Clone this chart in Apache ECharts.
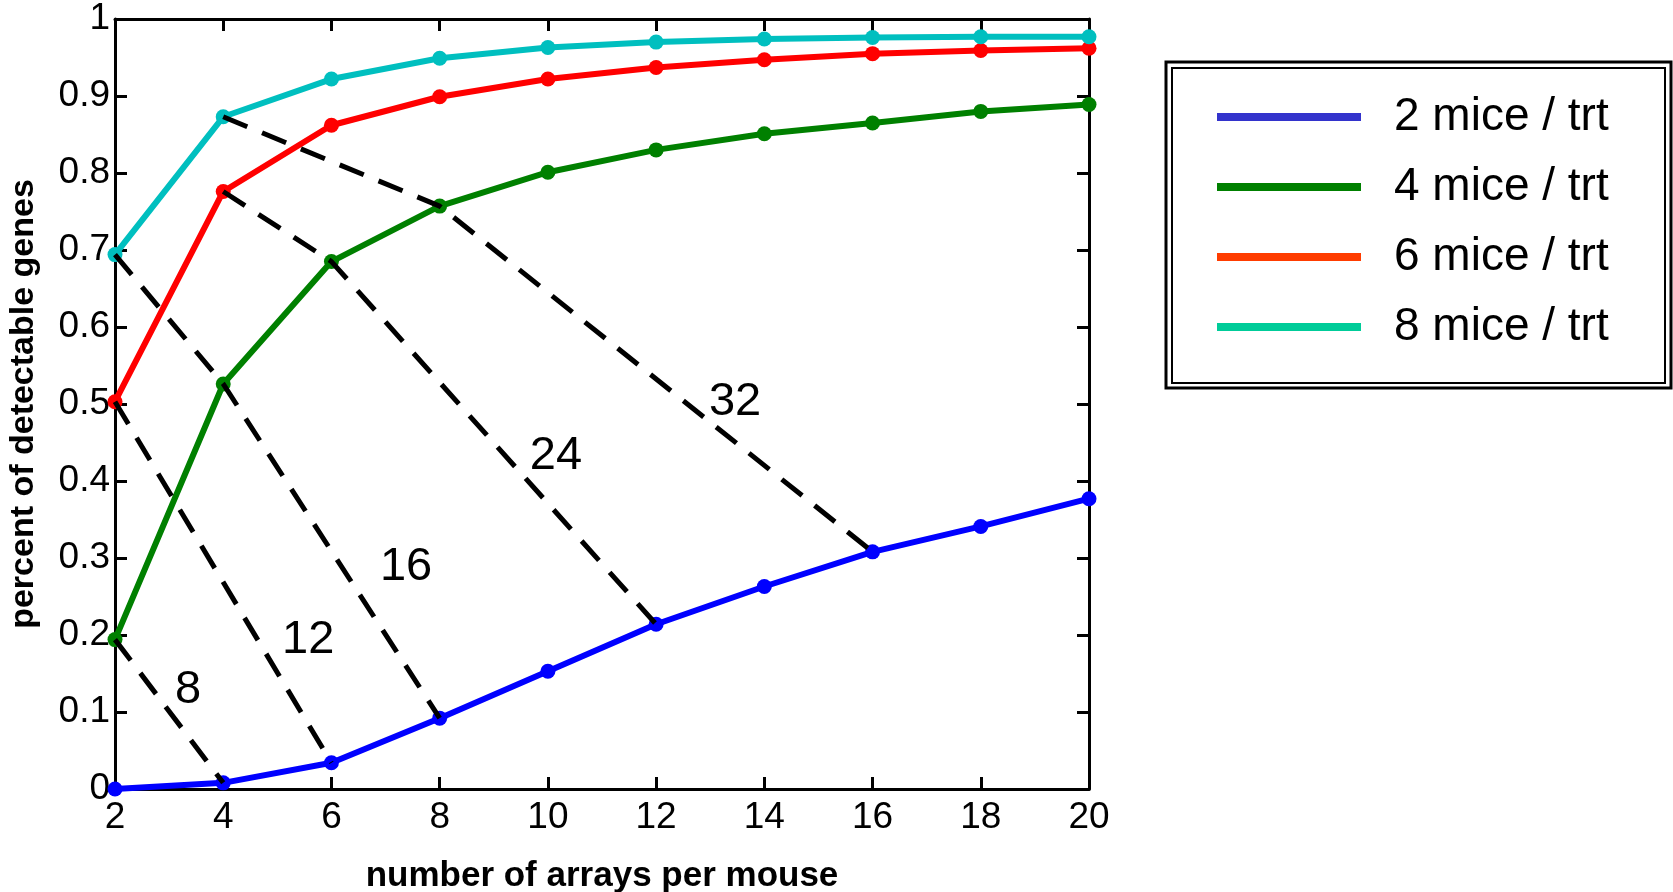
<!DOCTYPE html>
<html>
<head>
<meta charset="utf-8">
<script src="https://cdn.jsdelivr.net/npm/echarts@6/dist/echarts.min.js"></script>
<style>
html,body{margin:0;padding:0;background:#fff;}
#chart{width:1673px;height:892px;}
</style>
</head>
<body>
<div id="chart"></div>
<script>
// ---- data ----
const arraysPerMouse = [2, 4, 6, 8, 10, 12, 14, 16, 18, 20];
const mice2 = [0.000, 0.008, 0.034, 0.092, 0.153, 0.214, 0.263, 0.308, 0.341, 0.377];
const mice4 = [0.194, 0.526, 0.685, 0.757, 0.801, 0.830, 0.851, 0.865, 0.880, 0.889];
const mice6 = [0.503, 0.776, 0.862, 0.899, 0.922, 0.937, 0.947, 0.955, 0.959, 0.962];
const mice8 = [0.694, 0.873, 0.922, 0.949, 0.963, 0.970, 0.974, 0.976, 0.977, 0.977];
const seriesNames = ['2 mice / trt', '4 mice / trt', '6 mice / trt', '8 mice / trt'];
const yTicks = [0, 0.1, 0.2, 0.3, 0.4, 0.5, 0.6, 0.7, 0.8, 0.9, 1];

// iso-total-array contours (mice x arrays = constant), built from the series points
const contour8  = [[arraysPerMouse[0], mice4[0]], [arraysPerMouse[1], mice2[1]]];
const contour12 = [[arraysPerMouse[0], mice6[0]], [arraysPerMouse[2], mice2[2]]];
const contour16 = [[arraysPerMouse[0], mice8[0]], [arraysPerMouse[1], mice4[1]], [arraysPerMouse[3], mice2[3]]];
const contour24 = [[arraysPerMouse[1], mice6[1]], [arraysPerMouse[2], mice4[2]], [arraysPerMouse[5], mice2[5]]];
const contour32 = [[arraysPerMouse[1], mice8[1]], [arraysPerMouse[3], mice4[3]], [arraysPerMouse[7], mice2[7]]];
const contourLabels = ['8', '12', '16', '24', '32'];
const contourLabelX = [3.35, 5.57, 7.38, 10.15, 13.46];
const contourLabelY = [0.128, 0.194, 0.288, 0.432, 0.502];

// ---- styles ----
const lineColors = ['#0000ff', '#008000', '#ff0000', '#00bfbf'];
const legendColors = ['#3333cc', '#008000', '#ff3c00', '#00cc99'];
const FONT = '"Liberation Sans", Arial, Helvetica, sans-serif';

const chart = echarts.init(document.getElementById('chart'));
const allSeries = [mice2, mice4, mice6, mice8];

const lineSeries = allSeries.map((arr, i) => ({
  name: seriesNames[i],
  type: 'line',
  data: arr.map((v, j) => [arraysPerMouse[j], v]),
  symbol: 'circle',
  symbolSize: 15,
  showSymbol: true,
  clip: false,
  lineStyle: { color: lineColors[i], width: 6 },
  itemStyle: { color: lineColors[i] },
  emphasis: { disabled: true },
  z: 2 + i,
  animation: false
}));

const contourSeries = [contour8, contour12, contour16, contour24, contour32].map(c => ({
  type: 'line',
  data: c,
  symbol: 'none',
  clip: false,
  lineStyle: { color: '#000', width: 5, type: [26, 16] },
  emphasis: { disabled: true },
  silent: true,
  z: 10,
  animation: false
}));

const labelSeries = {
  type: 'scatter',
  data: contourLabels.map((t, i) => [contourLabelX[i], contourLabelY[i], t]),
  symbolSize: 0,
  silent: true,
  z: 11,
  itemStyle: { opacity: 1, color: '#000' },
  label: {
    show: true,
    position: 'inside',
    formatter: p => p.value[2],
    fontSize: 47,
    fontFamily: FONT,
    color: '#000',
    opacity: 1
  },
  emphasis: { disabled: true },
  animation: false
};

const axisCommonX = {
  type: 'value', min: 2, max: 20, interval: 2,
  axisLine: { show: true, onZero: false, lineStyle: { color: '#000', width: 3 } },
  axisTick: { show: true, inside: true, length: 12, lineStyle: { color: '#000', width: 3 } },
  splitLine: { show: false }
};
const axisCommonY = {
  type: 'value', min: yTicks[0], max: yTicks[yTicks.length - 1], interval: 0.1,
  axisLine: { show: true, onZero: false, lineStyle: { color: '#000', width: 3 } },
  axisTick: { show: true, inside: true, length: 12, lineStyle: { color: '#000', width: 3 } },
  splitLine: { show: false }
};

chart.setOption({
  animation: false,
  backgroundColor: '#fff',
  grid: { left: 115, right: 584, top: 19, bottom: 103, containLabel: false, outerBoundsMode: 'none' },
  xAxis: [
    Object.assign({}, axisCommonX, {
      position: 'bottom',
      name: 'number of arrays per mouse',
      nameLocation: 'middle',
      nameGap: 70,
      nameTextStyle: { fontSize: 35, fontWeight: 'bold', fontFamily: FONT, color: '#000' },
      axisLabel: { show: true, margin: 10, fontSize: 37, fontFamily: FONT, color: '#000' }
    }),
    Object.assign({}, axisCommonX, {
      position: 'top',
      axisLabel: { show: false }
    })
  ],
  yAxis: [
    Object.assign({}, axisCommonY, {
      position: 'left',
      name: 'percent of detectable genes',
      nameLocation: 'middle',
      nameGap: 74,
      nameRotate: 90,
      nameTextStyle: { fontSize: 34, fontWeight: 'bold', fontFamily: FONT, color: '#000' },
      axisLabel: {
        show: true, margin: 5, fontSize: 37, fontFamily: FONT, color: '#000',
        formatter: v => String(Math.round(v * 10) / 10)
      }
    }),
    Object.assign({}, axisCommonY, {
      position: 'right',
      axisLabel: { show: false }
    })
  ],
  legend: {
    orient: 'vertical',
    left: 1217,
    top: 92,
    padding: 0,
    itemGap: 20,
    itemWidth: 144,
    itemHeight: 8,
    icon: 'rect',
    selectedMode: false,
    textStyle: { fontSize: 46, fontFamily: FONT, color: '#000', lineHeight: 50, padding: [0, 0, 0, 28] },
    data: seriesNames.map((n, i) => ({ name: n, itemStyle: { color: legendColors[i] } }))
  },
  graphic: [
    { type: 'rect', shape: { x: 1166, y: 62, width: 505, height: 326 },
      style: { fill: 'none', stroke: '#000', lineWidth: 3 }, silent: true },
    { type: 'rect', shape: { x: 1172, y: 68, width: 493, height: 315 },
      style: { fill: 'none', stroke: '#000', lineWidth: 2 }, silent: true }
  ],
  series: lineSeries.concat(contourSeries, [labelSeries])
});
</script>
</body>
</html>
